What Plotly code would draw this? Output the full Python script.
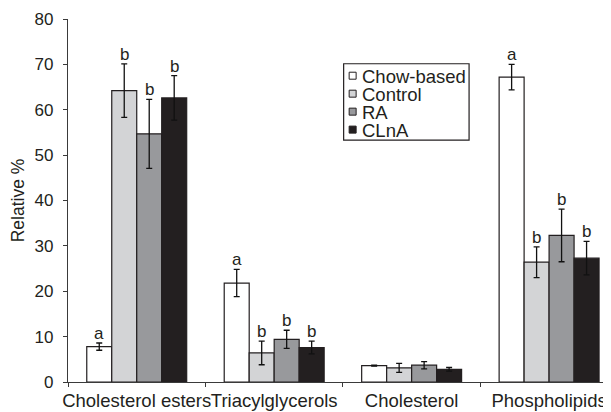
import plotly.graph_objects as go

categories = ["Cholesterol esters", "Triacylglycerols", "Cholesterol", "Phospholipids"]
series_names = ["Chow-based", "Control", "RA", "CLnA"]
chow_vals = [7.8, 21.8, 3.6, 67.2]
chow_err = [0.8, 3.0, 0.1, 2.8]
control_vals = [64.2, 6.4, 3.1, 26.4]
control_err = [5.9, 2.6, 1.0, 3.4]
ra_vals = [54.7, 9.4, 3.7, 32.3]
ra_err = [7.6, 2.0, 0.8, 5.8]
clna_vals = [62.6, 7.6, 2.8, 27.3]
clna_err = [4.9, 1.4, 0.4, 3.7]
chow_letters = ["a", "a", "", "a"]
control_letters = ["b", "b", "", "b"]
ra_letters = ["b", "b", "", "b"]
clna_letters = ["b", "b", "", "b"]
y_ticks = [0, 10, 20, 30, 40, 50, 60, 70, 80]

colors = ["#ffffff", "#d3d4d6", "#98999c", "#231f20"]
FONT = "Liberation Sans, Arial, sans-serif"
TXT = "#231f20"

vals = [chow_vals, control_vals, ra_vals, clna_vals]
errs = [chow_err, control_err, ra_err, clna_err]
letters = [chow_letters, control_letters, ra_letters, clna_letters]

xpos = list(range(len(categories)))
bargap = 0.273
bw = (1 - bargap) / len(series_names)

fig = go.Figure()
for i, name in enumerate(series_names):
    fig.add_trace(go.Bar(
        x=xpos, y=vals[i], name=name,
        marker=dict(color=colors[i], line=dict(color="#231f20", width=1.2)),
        error_y=dict(type="data", array=errs[i], visible=True,
                     color="#111111", thickness=1.3, width=3),
        showlegend=False,
    ))

annotations = []
for i in range(len(series_names)):
    off = (i - (len(series_names) - 1) / 2) * bw
    for j, c in enumerate(categories):
        if letters[i][j]:
            annotations.append(dict(
                x=j + off, y=vals[i][j] + errs[i][j], xref="x", yref="y",
                text=letters[i][j], showarrow=False, yanchor="bottom",
                yshift=-2, font=dict(family=FONT, size=17, color=TXT)))

# page body has an 8px default margin: the figure sits at (8, 8) in the window
OFF = 8
W, H = 603, 404
ml = 67.7 - OFF
mt = 18.7 - OFF
mr = W - (606 - OFF)
mb = H - (382.3 - OFF)
pw, ph = W - ml - mr, H - mt - mb

def px(x):
    return (x - OFF - ml) / pw

def py(y):
    return 1 - (y - OFF - mt) / ph

shapes = [dict(type="rect", xref="paper", yref="paper",
               x0=px(343.5), x1=px(469), y0=py(140), y1=py(63.5),
               line=dict(color="#231f20", width=1.2), fillcolor="white")]
row_y = [75.5, 93.5, 111.5, 129.5]
for i, name in enumerate(series_names):
    cy = row_y[i]
    shapes.append(dict(type="rect", xref="paper", yref="paper",
                       x0=px(349), x1=px(356), y0=py(cy + 3.5), y1=py(cy - 3.5),
                       line=dict(color="#231f20", width=1), fillcolor=colors[i]))
    annotations.append(dict(x=px(359.5), y=py(cy + 1), xref="paper", yref="paper",
                            text=name, showarrow=False, xanchor="left", yanchor="middle",
                            height=17, valign="middle",
                            font=dict(family=FONT, size=18.5, color=TXT)))

fig.update_layout(
    width=W, height=H, autosize=False,
    margin=dict(l=ml, r=mr, t=mt, b=mb, pad=0, autoexpand=False),
    paper_bgcolor="white", plot_bgcolor="white",
    barmode="group", bargap=bargap, bargroupgap=0,
    font=dict(family=FONT, color=TXT),
    annotations=annotations, shapes=shapes,
    xaxis=dict(range=[-0.5, 3.414], tickvals=xpos, ticktext=categories,
               tickangle=0, automargin=False,
               ticks="", showline=True, linecolor="#3a3a3a", linewidth=1.2,
               showgrid=False, zeroline=False, ticklabelstandoff=2,
               tickfont=dict(family=FONT, size=18.5, color=TXT),
               minor=dict(tick0=-0.5, dtick=1, ticks="outside", ticklen=4,
                          tickcolor="#3a3a3a", tickwidth=1.2, showgrid=False)),
    yaxis=dict(range=[0, 80], tickvals=y_ticks, ticks="outside", ticklen=4,
               tickcolor="#3a3a3a", tickwidth=1.2, automargin=False,
               showline=True, linecolor="#3a3a3a", linewidth=1.2,
               showgrid=False, zeroline=False, ticklabelstandoff=6,
               tickfont=dict(family=FONT, size=17, color=TXT),
               title=dict(text="Relative %", standoff=8,
                          font=dict(family=FONT, size=17.5, color=TXT))),
)

fig.write_html("out.html")
